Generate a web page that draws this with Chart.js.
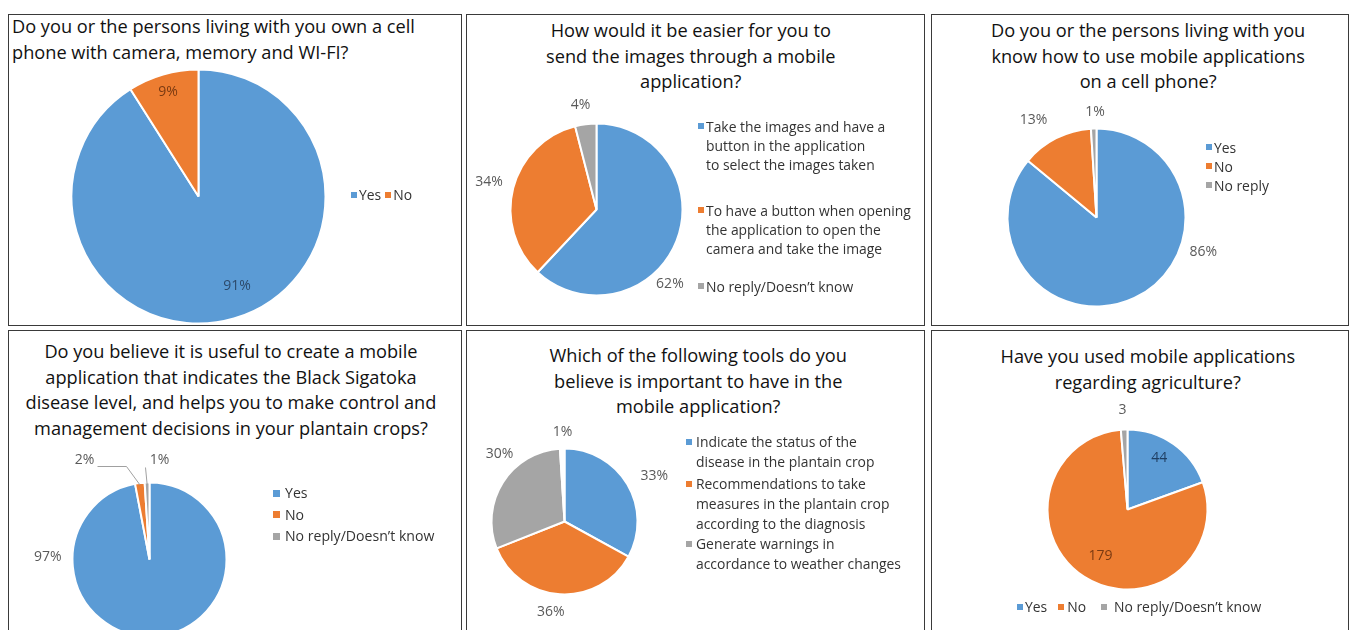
<!DOCTYPE html>
<html>
<head>
<meta charset="utf-8">
<script src="https://cdn.jsdelivr.net/npm/chart.js@4.4.1/dist/chart.umd.min.js"></script>
<style>
  html, body { margin: 0; padding: 0; background: #fff; }
  body { width: 1349px; height: 630px; overflow: hidden; position: relative;
         font-family: "Open Sans", "Noto Sans", sans-serif; }
  .panel { position: absolute; border: 1.5px solid #3a3a3a; box-sizing: border-box; background: #fff; overflow: hidden; }
  .title { position: absolute; color: #111; font-size: 18.2px; line-height: 25.5px; white-space: nowrap; }
  .legend { position: absolute; color: #333; font-size: 13.9px; white-space: nowrap; }
  .mk { display: inline-block; width: 6px; height: 6px; margin-right: 2px; vertical-align: 2px; }
</style>
</head>
<body>

<script>
// colours
const BLUE = "#5B9BD5";
const ORANGE = "#ED7D31";
const GRAY = "#A5A5A5";

// data
const q1Labels = ["Yes", "No"];
const q1Values = [91, 9];

const q2Labels = [
  ["Take the images and have a", "button in the application", "to select the images taken"],
  ["To have a button when opening", "the application to open the", "camera and take the image"],
  ["No reply/Doesn\u2019t know"]
];
const q2Values = [62, 34, 4];

const q3Labels = ["Yes", "No", "No reply"];
const q3Values = [86, 13, 1];

const q4Labels = ["Yes", "No", "No reply/Doesn\u2019t know"];
const q4Values = [97, 2, 1];

const q5Labels = [
  ["Indicate the status of the", "disease in the plantain crop"],
  ["Recommendations to take", "measures in the plantain crop", "according to the diagnosis"],
  ["Generate warnings in", "accordance to weather changes"],
  ["Other"]
];
const q5Values = [33, 36, 30, 1];

const q6Labels = ["Yes", "No", "No reply/Doesn\u2019t know"];
const q6Values = [44, 179, 3];

// panels: box, title, pie centre/radius, label placement [angle shift deg, radius factor, colour]
const panels = [
  {
    box: [8, 14, 454, 312],
    title: ["Do you or the persons living with you own a cell", "phone with camera, memory and WI-FI?"],
    titleAlign: "left", titleX: 3, titleY: -1,
    labels: q1Labels, values: q1Values, colors: [BLUE, ORANGE],
    cx: 199, cy: 197, r: 127,
    text: v => v + "%",
    place: [[-7, 0.77, "#2d4a6b"], [0, 0.86, "#7a3a12"]],
    legend: { type: "row", x: 350, y: 194, gaps: [4], mgap: [2, 2] }
  },
  {
    box: [466, 14, 459, 312],
    title: ["How would it be easier for you to", "send the images through a mobile", "application?"],
    titleAlign: "center", titleCx: 690, titleY: 3,
    labels: q2Labels, values: q2Values, colors: [BLUE, ORANGE, GRAY],
    cx: 597, cy: 210, r: 86,
    text: v => v + "%",
    place: [[24, 1.22], [0, 1.29], [-1.5, 1.23]],
    legend: { type: "col", x: 697, ys: [125, 209, 285], lh: 19 }
  },
  {
    box: [931, 14, 418, 312],
    title: ["Do you or the persons living with you", "know how to use mobile applications", "on a cell phone?"],
    titleAlign: "center", titleCx: 1147, titleY: 3,
    labels: q3Labels, values: q3Values, colors: [BLUE, ORANGE, GRAY],
    cx: 1097, cy: 218, r: 89,
    text: v => v + "%",
    place: [[-47, 1.26], [-6, 1.3], [1, 1.19]],
    legend: { type: "col", x: 1205, ys: [146, 165, 184], lh: 19 }
  },
  {
    box: [8, 330, 454, 310],
    title: ["Do you believe it is useful to create a mobile", "application that indicates the Black Sigatoka",
            "disease level, and helps you to make control and", "management decisions in your plantain crops?"],
    titleAlign: "center", titleCx: 230, titleY: 8,
    labels: q4Labels, values: q4Values, colors: [BLUE, ORANGE, GRAY],
    cx: 150, cy: 560, r: 77,
    text: v => v + "%",
    place: [[97, 1.32], [-26, 1.54], [7.5, 1.3]],
    leaders: [null, [[98, 467], [127, 467]], [[146, 468]]],
    legend: { type: "col", x: 272, ys: [492, 513.5, 535], lh: 21.5, size: 14.1, mk: 7, gap: 5 }
  },
  {
    box: [466, 330, 459, 310],
    title: ["Which of the following tools do you", "believe is important to have in the", "mobile application?"],
    titleAlign: "center", titleCx: 697, titleY: 12,
    labels: q5Labels, values: q5Values, colors: [BLUE, ORANGE, GRAY, "#ffffff"],
    cx: 565, cy: 522, r: 73,
    text: v => v + "%",
    place: [[3.5, 1.38], [5, 1.26], [13.5, 1.28], [0.5, 1.23]],
    legend: { type: "col", x: 685, ys: [441, 483, 543], lh: 20, count: 3, gap: 4 }
  },
  {
    box: [931, 330, 418, 310],
    title: ["Have you used mobile applications", "regarding agriculture?"],
    titleAlign: "center", titleCx: 1147, titleY: 13,
    labels: q6Labels, values: q6Values, colors: [BLUE, ORANGE, GRAY],
    cx: 1128, cy: 510, r: 80,
    text: v => String(v),
    place: [[-3.5, 0.76, "#1f3f63"], [-2.5, 0.67, "#7a3a12"], [-0.5, 1.24]],
    legend: { type: "row", x: 1016, y: 606, gaps: [11, 15], mgap: [2, 3, 7] }
  }
];

// draws the value labels next to each arc
const valueLabels = {
  id: "valueLabels",
  afterDatasetsDraw(chart, args, opts) {
    const ctx = chart.ctx;
    const meta = chart.getDatasetMeta(0);
    const p = opts.panel;
    const ox = p.box[0] + 1.5, oy = p.box[1] + 1.5;
    ctx.save();
    ctx.font = '14px "Open Sans", sans-serif';
    ctx.textAlign = "center";
    ctx.textBaseline = "middle";
    meta.data.forEach((arc, i) => {
      const a = arc.getProps(["x", "y", "startAngle", "endAngle", "outerRadius"], true);
      const pl = p.place[i];
      const m0 = (a.startAngle + a.endAngle) / 2;
      const mid = m0 + pl[0] * Math.PI / 180;
      const d = a.outerRadius * pl[1];
      const x = a.x + Math.cos(mid) * d;
      const y = a.y + Math.sin(mid) * d;
      if (p.leaders && p.leaders[i]) {
        ctx.strokeStyle = "#a0a0a0";
        ctx.lineWidth = 1;
        ctx.beginPath();
        p.leaders[i].forEach((pt, k) => {
          const px = pt[0] - ox, py = pt[1] - oy;
          if (k === 0) ctx.moveTo(px, py); else ctx.lineTo(px, py);
        });
        ctx.lineTo(a.x + Math.cos(m0) * (a.outerRadius - 2), a.y + Math.sin(m0) * (a.outerRadius - 2));
        ctx.stroke();
      }
      ctx.fillStyle = pl[2] || "#5a5a5a";
      ctx.fillText(p.text(chart.data.datasets[0].data[i]), x, y);
    });
    ctx.restore();
  }
};

panels.forEach(p => {
  const [bx, by, bw, bh] = p.box;
  const div = document.createElement("div");
  div.className = "panel";
  div.style.left = bx + "px";
  div.style.top = by + "px";
  div.style.width = bw + "px";
  div.style.height = bh + "px";
  document.body.appendChild(div);

  // title
  const t = document.createElement("div");
  t.className = "title";
  t.innerHTML = p.title.join("<br>");
  t.style.top = p.titleY + "px";
  t.style.textAlign = p.titleAlign;
  div.appendChild(t);
  if (p.titleAlign === "left") {
    t.style.left = p.titleX + "px";
  } else {
    const w = t.offsetWidth;
    t.style.left = (p.titleCx - bx - w / 2) + "px";
  }

  // canvas covers the panel, chart area is a square centred on the pie
  const cw = bw - 3, ch = bh - 3;
  const holder = document.createElement("div");
  holder.style.position = "absolute";
  holder.style.left = "0px";
  holder.style.top = "0px";
  holder.style.width = cw + "px";
  holder.style.height = ch + "px";
  div.appendChild(holder);
  const canvas = document.createElement("canvas");
  holder.appendChild(canvas);

  const px = p.cx - bx - 1.5, py = p.cy - by - 1.5;
  const s = Math.max(5, Math.min(px, py, cw - px, ch - py));

  new Chart(canvas, {
    type: "pie",
    data: {
      labels: p.labels,
      datasets: [{
        data: p.values,
        backgroundColor: p.colors,
        borderColor: "#ffffff",
        borderWidth: 2
      }]
    },
    options: {
      responsive: true,
      maintainAspectRatio: false,
      animation: false,
      radius: p.r,
      layout: {
        padding: { left: px - s, right: cw - px - s, top: py - s, bottom: ch - py - s }
      },
      plugins: {
        legend: { display: false },
        tooltip: { enabled: false },
        valueLabels: { panel: p }
      }
    },
    plugins: [valueLabels]
  });

  // legend
  const lg = p.legend;
  const n = lg.count || p.labels.length;
  const size = lg.size || 13.9;
  const mk = lg.mk || 6;
  const gap = lg.gap || 2;
  if (lg.type === "row") {
    const row = document.createElement("div");
    row.className = "legend";
    row.style.fontSize = size + "px";
    row.style.left = (lg.x - bx) + "px";
    row.style.top = (lg.y - by - size * 0.7) + "px";
    let html = "";
    for (let i = 0; i < n; i++) {
      const ml = i > 0 ? lg.gaps[i - 1] : 0;
      html += '<span style="margin-left:' + ml + 'px"><span class="mk" style="width:' + mk + 'px;height:' + mk +
        'px;margin-right:' + lg.mgap[i] + 'px;background:' + p.colors[i] + '"></span>' + p.labels[i] + '</span>';
    }
    row.innerHTML = html;
    div.appendChild(row);
  } else {
    for (let i = 0; i < n; i++) {
      const lines = Array.isArray(p.labels[i]) ? p.labels[i] : [p.labels[i]];
      const item = document.createElement("div");
      item.className = "legend";
      item.style.fontSize = size + "px";
      item.style.lineHeight = lg.lh + "px";
      item.style.left = (lg.x - bx) + "px";
      item.style.top = (lg.ys[i] - by - lg.lh / 2) + "px";
      item.innerHTML = '<span class="mk" style="position:absolute;left:0;top:' + (lg.lh / 2 - mk / 2) + 'px;width:' + mk +
        'px;height:' + mk + 'px;background:' + p.colors[i] + '"></span>' +
        '<div style="padding-left:' + (mk + gap) + 'px">' + lines.join("<br>") + '</div>';
      div.appendChild(item);
    }
  }
});
</script>
</body>
</html>
